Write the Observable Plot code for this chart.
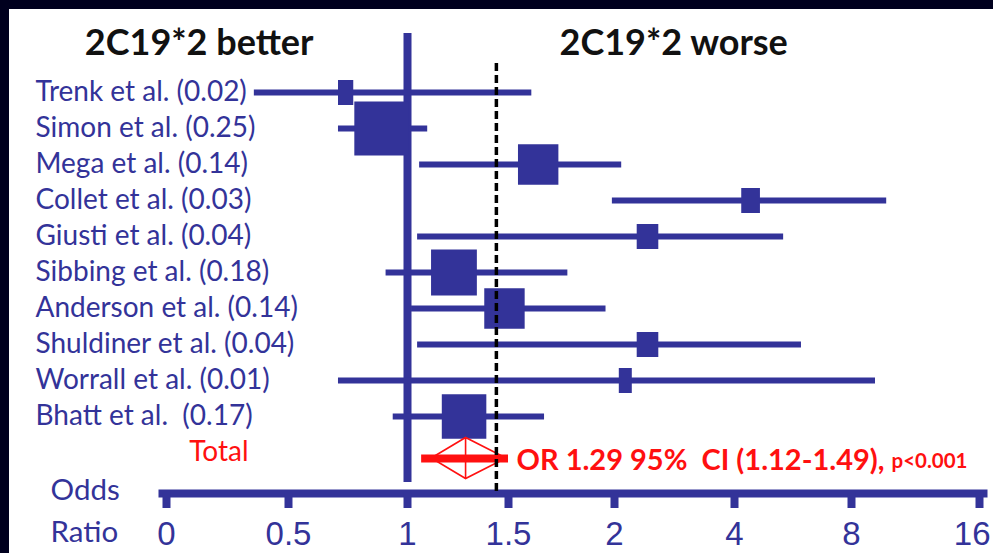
<!DOCTYPE html>
<html>
<head>
<meta charset="utf-8">
<script src="https://cdn.jsdelivr.net/npm/d3@7"></script>
<script src="https://cdn.jsdelivr.net/npm/@observablehq/plot@0.6"></script>
<style>
  html, body { margin: 0; padding: 0; background: #fff; }
  #wrap { position: relative; width: 993px; height: 553px; background: #fff; overflow: hidden; }
  #chart svg { position: absolute; left: 0; top: 0; }
  .edge-top { position: absolute; left: 0; top: 0; width: 993px; height: 9px; background: #00001e; }
  .edge-left { position: absolute; left: 0; top: 0; width: 9px; height: 553px; background: #00001e; }
</style>
</head>
<body>
<div id="wrap">
  <div id="chart"></div>
  <div class="edge-top"></div>
  <div class="edge-left"></div>
</div>
<script>
// Individual studies: name, relative weight, odds ratio and 95% CI
const studies = ["Trenk et al.", "Simon et al.", "Mega et al.", "Collet et al.", "Giusti et al.",
  "Sibbing et al.", "Anderson et al.", "Shuldiner et al.", "Worrall et al.", "Bhatt et al.\u00a0"];
const weights   = [0.02, 0.25, 0.14, 0.03, 0.04, 0.18, 0.14, 0.04, 0.01, 0.17];
const oddsRatio = [0.74, 0.89, 1.64, 4.55, 2.55, 1.23, 1.48, 2.55, 2.18, 1.28];
const ciLow     = [0.36, 0.71, 1.06, 1.99, 1.05, 0.91, 1.02, 1.05, 0.71, 0.94];
const ciHigh    = [1.61, 1.10, 2.12, 10.2, 5.68, 1.78, 1.96, 6.29, 9.5, 1.67];

// Pooled estimate
const totalLabel = "Total";
const totalOR = 1.29, totalLow = 1.12, totalHigh = 1.49;
const totalBar = [1.07, 1.50];
const pValue = "p<0.001";
const dashedRef = 1.44;

// Odds-ratio axis
const tickValues = [0, 0.5, 1, 1.5, 2, 4, 8, 16];
const tickLabels = ["0", "0.5", "1", "1.5", "2", "4", "8", "16"];
const headerBetter = "2C19*2 better";
const headerWorse = "2C19*2 worse";
const axisTitleTop = "Odds";
const axisTitleBottom = "Ratio";

const rows = studies.map((s, i) => ({
  study: s,
  label: `${s} (${weights[i].toFixed(2)})`,
  weight: weights[i], or: oddsRatio[i], lo: ciLow[i], hi: ciHigh[i]
}));
const total = [{
  study: totalLabel, or: totalOR, lo: totalLow, hi: totalHigh,
  barLo: totalBar[0], barHi: totalBar[1],
  text: `OR ${totalOR} 95%\u00a0 CI (${totalLow}-${totalHigh}),`
}];
const lastTick = tickValues[tickValues.length - 1];

const navy = "#333399";
const red = "#ff1010";

// Weight box: side grows with sqrt(weight); small studies keep a minimum size
const boxSymbol = {
  draw(ctx, size) {
    const r = Math.sqrt(size / Math.PI);
    const w = Math.max(2 * r, 13), h = Math.max(2 * r, 25);
    ctx.rect(-w / 2, -h / 2, w, h);
  }
};

// Pooled-estimate diamond spanning the confidence interval
function pooledDiamond(index, scales) {
  const x = scales.x, y = scales.y;
  const cy = y(totalLabel) + 6, hh = 20.5;
  const x0 = x(totalLow), x1 = x(totalHigh), xc = x(totalOR);
  const g = d3.create("svg:g").attr("fill", "none").attr("stroke", red).attr("stroke-width", 1.6);
  g.append("path").attr("d", `M${x0},${cy}L${xc},${cy - hh}L${x1},${cy}L${xc},${cy + hh}Z`);
  g.append("line").attr("x1", xc).attr("x2", xc).attr("y1", cy - hh).attr("y2", cy + hh);
  return g.node();
}

const chart = Plot.plot({
  width: 993,
  height: 553,
  marginTop: 33,
  marginBottom: 60,
  marginLeft: 162,
  marginRight: 10,
  style: {background: "transparent", fontFamily: "Lato, sans-serif"},
  x: {type: "linear", domain: tickValues, range: [166, 288, 407, 508, 614, 734, 851, 979], label: null},
  y: {type: "point", domain: [...studies, totalLabel], range: [91, 453], padding: 0, axis: null},
  r: {type: "sqrt", domain: [0, 0.25], range: [0, 27]},
  marks: [
    Plot.frame({anchor: "bottom", stroke: navy, strokeWidth: 8}),
    Plot.ruleX([1], {stroke: navy, strokeWidth: 8, insetTop: 0, insetBottom: 11}),
    Plot.ruleY(rows, {y: "study", x1: "lo", x2: "hi", stroke: navy, strokeWidth: 6}),
    Plot.dot(rows, {x: "or", y: "study", r: "weight", symbol: boxSymbol, fill: navy, stroke: null}),
    pooledDiamond,
    Plot.ruleY(total, {y: "study", x1: "barLo", x2: "barHi", stroke: red, strokeWidth: 8, dy: 6}),
    Plot.ruleX([dashedRef], {stroke: "#000", strokeWidth: 3.5, strokeDasharray: "8,4", insetTop: 30}),
    Plot.text(rows, {y: "study", text: "label", frameAnchor: "left", textAnchor: "start", dx: -127,
      fontSize: 28, fill: navy}),
    Plot.text(total, {y: "study", text: "study", frameAnchor: "left", textAnchor: "end", dx: 86,
      fontSize: 28, fill: red}),
    Plot.text(total, {x: "barHi", y: "study", text: "text", textAnchor: "start", dx: 8, dy: 8,
      fontSize: 29, fontWeight: "bold", fill: red}),
    Plot.text(total, {y: "study", text: () => pValue, frameAnchor: "right", textAnchor: "end", dx: -16, dy: 9,
      fontSize: 20.5, fontWeight: "bold", fill: red}),
    Plot.text([headerBetter], {x: [1], text: (d) => d, frameAnchor: "top", textAnchor: "end", lineAnchor: "bottom",
      dx: -94, dy: 21, fontSize: 36, fontWeight: "bold", fill: "#111"}),
    Plot.text([headerWorse], {x: [1], text: (d) => d, frameAnchor: "top", textAnchor: "start", lineAnchor: "bottom",
      dx: 152, dy: 21, fontSize: 36, fontWeight: "bold", fill: "#111"}),
    // two-line axis title to the left of the axis
    Plot.text([axisTitleTop], {text: (d) => d, frameAnchor: "bottom-left", textAnchor: "start", lineAnchor: "bottom",
      dx: -112, dy: 6, fontSize: 29.5, fill: navy}),
    Plot.text([axisTitleBottom], {text: (d) => d, frameAnchor: "bottom-left", textAnchor: "start", lineAnchor: "bottom",
      dx: -112, dy: 48, fontSize: 29.5, fill: navy}),
    Plot.axisX(tickValues, {tickSize: 15, tickPadding: 13, strokeWidth: 8, color: navy, label: null,
      fontSize: 33, fontFamily: "Liberation Sans, Arial, sans-serif",
      tickFormat: (d) => d === lastTick ? "" : tickLabels[tickValues.indexOf(d)]}),
    // the last tick label sits flush against the right edge
    Plot.text([lastTick], {x: (d) => d, text: (d) => tickLabels[tickValues.indexOf(d)], frameAnchor: "bottom",
      textAnchor: "end", lineAnchor: "top", dx: 11, dy: 28, fontSize: 33,
      fontFamily: "Liberation Sans, Arial, sans-serif", fill: navy})
  ]
});
document.getElementById("chart").append(chart);
</script>
</body>
</html>
